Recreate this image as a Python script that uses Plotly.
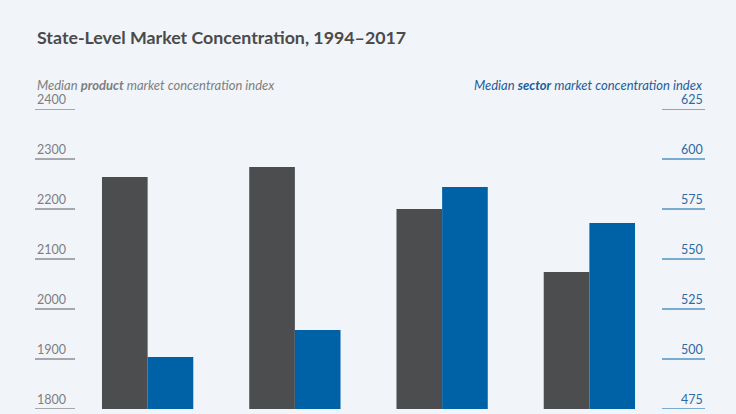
import plotly.graph_objects as go

categories = ["Group A", "Group B", "Group C", "Group D"]
product_index = [2264, 2284, 2200, 2074]
sector_index = [501, 514.5, 586, 568]
left_ticks = [1800, 1900, 2000, 2100, 2200, 2300, 2400]
right_ticks = [475, 500, 525, 550, 575, 600, 625]

GRAY = "#4c4d4f"
BLUE = "#0062a6"
BG = "#f1f5f9"
FONT = "Lato"

fig = go.Figure()
fig.add_trace(go.Bar(x=categories, y=product_index, marker_color=GRAY,
                     offsetgroup=1, yaxis="y", name="Product", marker_line_width=0))
fig.add_trace(go.Bar(x=categories, y=sector_index, marker_color=BLUE,
                     offsetgroup=2, yaxis="y2", name="Sector", marker_line_width=0))

x_left0 = (35 - 74) / 589
x_left1 = (75 - 74) / 589
x_right0 = (662 - 74) / 589
x_right1 = (705 - 74) / 589

shapes = []
annotations = []
for t in left_ticks:
    shapes.append(dict(type="line", xref="paper", yref="y", x0=x_left0, x1=x_left1,
                       y0=t, y1=t, line=dict(color="#5a5b5d", width=1)))
    annotations.append(dict(xref="paper", yref="y", x=x_left0, y=t, text=str(t),
                            xanchor="left", yanchor="bottom", showarrow=False,
                            font=dict(family=FONT, size=12.5, color="#7d7e80")))
for t in right_ticks:
    shapes.append(dict(type="line", xref="paper", yref="y2", x0=x_right0, x1=x_right1,
                       y0=t, y1=t, line=dict(color=BLUE, width=1)))
    annotations.append(dict(xref="paper", yref="y2", x=x_right1, y=t, text=str(t),
                            xanchor="right", yanchor="bottom", showarrow=False,
                            font=dict(family=FONT, size=12.5, color="#2f6aa0")))

annotations.append(dict(xref="paper", yref="paper", x=x_left0, y=(414 - 85 - 5) / 300,
                        text="<i>Median <b>product</b> market concentration index</i>",
                        xanchor="left", yanchor="middle", showarrow=False,
                        font=dict(family=FONT, size=13, color="#7d7e80")))
annotations.append(dict(xref="paper", yref="paper", x=x_right1, y=(414 - 85 - 5) / 300,
                        text="<i>Median <b>sector</b> market concentration index</i>",
                        xanchor="right", yanchor="middle", showarrow=False,
                        font=dict(family=FONT, size=13, color="#1d5d9b")))
annotations.append(dict(xref="paper", yref="paper", x=x_left0, y=(414 - 37 - 5) / 300,
                        text="<b>State-Level Market Concentration, 1994–2017</b>",
                        xanchor="left", yanchor="middle", showarrow=False,
                        font=dict(family=FONT, size=17.8, color="#4a4b4d")))

fig.update_layout(
    width=736, height=414,
    margin=dict(l=74, r=73, t=109, b=5),
    paper_bgcolor=BG, plot_bgcolor=BG,
    showlegend=False,
    barmode="group", bargap=0.38, bargroupgap=0,
    xaxis=dict(showticklabels=False, showgrid=False, zeroline=False, showline=False, ticks=""),
    yaxis=dict(range=[1800, 2400], showticklabels=False, showgrid=False, zeroline=False,
               showline=False, tickvals=left_ticks),
    yaxis2=dict(range=[475, 625], overlaying="y", side="right", showticklabels=False,
                showgrid=False, zeroline=False, showline=False, tickvals=right_ticks),
    shapes=shapes, annotations=annotations,
)

fig.write_html("out.html", config={"displayModeBar": False},
               post_script="document.body.style.margin='0';document.body.style.background='%s';" % BG)
